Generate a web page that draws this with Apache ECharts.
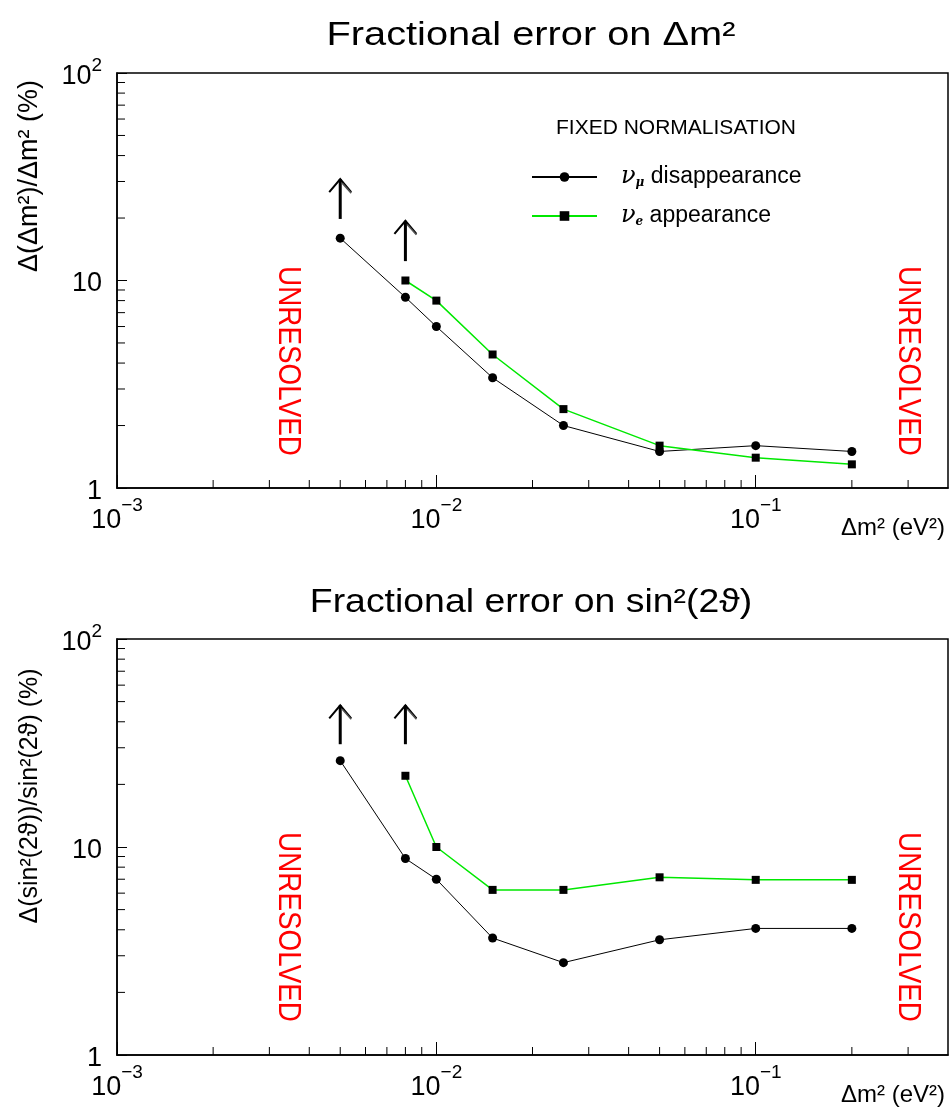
<!DOCTYPE html>
<html>
<head>
<meta charset="utf-8">
<title>Fractional errors</title>
<script src="https://cdn.jsdelivr.net/npm/echarts@6/dist/echarts.min.js"></script>
</head>
<body style="margin:0">
<div id="main" style="width:951px;height:1108px;"></div>
<script>
// x positions, delta m^2 in eV^2
var dm2Mu = [0.005, 0.008, 0.01, 0.015, 0.025, 0.05, 0.1, 0.2];
var dm2E = [0.008, 0.01, 0.015, 0.025, 0.05, 0.1, 0.2];

// top panel: fractional error on delta m^2 (%)
var dmMu = [16.0, 8.3, 6.0, 3.4, 2.0, 1.5, 1.6, 1.5];
var dmE = [10.0, 8.0, 4.4, 2.4, 1.6, 1.4, 1.3];

// bottom panel: fractional error on sin^2(2theta) (%)
var s2Mu = [26, 8.8, 7.0, 3.65, 2.78, 3.58, 4.06, 4.06];
var s2E = [22, 10, 6.22, 6.22, 7.15, 6.95, 6.95];

// upward arrows [x, from, to]
var arrowsTop = [[0.005, 19.8, 30.8], [0.008, 12.4, 19.4]];
var arrowsBot = [[0.005, 31.2, 48], [0.008, 31.2, 48]];

// minor ticks of the log axes
var xMinor = [0.002, 0.003, 0.004, 0.005, 0.006, 0.007, 0.008, 0.009,
	0.02, 0.03, 0.04, 0.05, 0.06, 0.07, 0.08, 0.09, 0.2, 0.3];
var yMinor = [2, 3, 4, 5, 6, 7, 8, 9, 20, 30, 40, 50, 60, 70, 80, 90];

var legendNames = ['mu', 'e'];
var GREEN = '#00e800';
var FONT = 'Liberation Sans';

var myChart = echarts.init(document.getElementById('main'));

function pairs(xs, ys) {
	var out = [];
	for (var i = 0; i < xs.length; i++) out.push([xs[i], ys[i]]);
	return out;
}

function xTick(params, api) {
	var p = api.coord([api.value(0), 1]);
	return { type: 'line', shape: { x1: p[0], y1: p[1], x2: p[0], y2: p[1] - 8 },
		style: { stroke: '#000', lineWidth: 1 } };
}
function yTick(params, api) {
	var p = api.coord([0.001, api.value(1)]);
	return { type: 'line', shape: { x1: p[0], y1: p[1], x2: p[0] + 8, y2: p[1] },
		style: { stroke: '#000', lineWidth: 1 } };
}
function arrow(params, api) {
	var a = api.coord([api.value(0), api.value(1)]);
	var b = api.coord([api.value(0), api.value(2)]);
	return { type: 'group', children: [
		{ type: 'line', shape: { x1: a[0], y1: a[1], x2: b[0], y2: b[1] },
			style: { stroke: '#000', lineWidth: 3 } },
		{ type: 'polyline', shape: { points: [[b[0] - 11, b[1] + 13], [b[0], b[1]], [b[0] + 11, b[1] + 13]] },
			style: { stroke: '#000', lineWidth: 2, fill: null } },
		{ type: 'line', shape: { x1: b[0] + 2, y1: b[1] + 4, x2: b[0] + 11, y2: b[1] + 14 },
			style: { stroke: '#555', lineWidth: 1.5 } }
	] };
}

function xAxisOf(idx) {
	return {
		gridIndex: idx, type: 'log', logBase: 10, min: 0.001, max: 0.4,
		axisLine: { lineStyle: { color: '#000', width: 1.5 } },
		axisTick: { inside: true, length: 13, lineStyle: { color: '#000' } },
		splitLine: { show: false },
		axisLabel: {
			margin: 8, showMaxLabel: false, color: '#000',
			formatter: function (v) {
				return '{b|10}{s|−' + Math.round(-Math.log10(v)) + '}';
			},
			rich: {
				b: { fontSize: 27, fontFamily: FONT, color: '#000', lineHeight: 38, verticalAlign: 'bottom' },
				s: { fontSize: 19, fontFamily: FONT, color: '#000', verticalAlign: 'top' }
			}
		},
		name: 'Δm² (eV²)', nameLocation: 'end', nameGap: 0,
		nameTextStyle: { fontFamily: FONT, fontSize: 24, color: '#000', align: 'right',
			verticalAlign: 'top', padding: [28, 3, 0, 0] }
	};
}

function yAxisOf(idx) {
	return {
		gridIndex: idx, type: 'log', logBase: 10, min: 1, max: 100,
		axisLine: { lineStyle: { color: '#000', width: 1.5 } },
		axisTick: { inside: true, length: 10, lineStyle: { color: '#000' } },
		splitLine: { show: false },
		axisLabel: {
			margin: 15, color: '#000',
			formatter: function (v) {
				var e = Math.round(Math.log10(v));
				if (e === 2) return '{b|10}{s|2}';
				return '{b|' + (e === 1 ? '10' : '1') + '}';
			},
			rich: {
				b: { fontSize: 27, fontFamily: FONT, color: '#000', lineHeight: 34, verticalAlign: 'bottom' },
				s: { fontSize: 19, fontFamily: FONT, color: '#000', verticalAlign: 'top' }
			}
		}
	};
}

function unresolved(x, y) {
	return { type: 'text', x: x, y: y, rotation: -Math.PI / 2, scaleX: 0.87,
		style: { text: 'UNRESOLVED', fill: '#ff0000', font: '32px ' + FONT,
			align: 'center', verticalAlign: 'middle' } };
}

function label(text, x, y, size, sx, rot) {
	return { type: 'text', x: x, y: y, scaleX: sx, rotation: rot || 0,
		style: { text: text, font: size + 'px ' + FONT, fill: '#000', align: 'center', verticalAlign: 'middle' } };
}

option = {
	backgroundColor: '#fff',
	animation: false,
	grid: [
		{ left: 117, top: 73, width: 831, height: 415, show: true, borderColor: '#000', borderWidth: 1.5 },
		{ left: 117, top: 639, width: 831, height: 416, show: true, borderColor: '#000', borderWidth: 1.5 }
	],
	xAxis: [xAxisOf(0), xAxisOf(1)],
	yAxis: [yAxisOf(0), yAxisOf(1)],
	legend: {
		data: legendNames, orient: 'vertical', left: 526, top: 160,
		itemWidth: 65, itemHeight: 12, itemGap: 15,
		formatter: function (n) {
			return n === 'mu' ? '{nu|ν}{sub|μ}{t| disappearance}' : '{nu|ν}{sub|e}{t| appearance}';
		},
		textStyle: {
			rich: {
				nu: { fontFamily: 'DejaVu Serif', fontStyle: 'italic', fontSize: 24, color: '#000', padding: [0, 0, 0, 19] },
				sub: { fontFamily: 'DejaVu Serif', fontStyle: 'italic', fontWeight: 'bold', fontSize: 12, color: '#000', verticalAlign: 'bottom' },
				t: { fontFamily: FONT, fontSize: 23, color: '#000' }
			}
		}
	},
	graphic: [
		label('Fractional error on Δm²', 531, 36, 34, 1.17),
		label('Fractional error on sin²(2ϑ)', 531, 603, 34, 1.10),
		label('FIXED NORMALISATION', 676, 128, 21, 1),
		label('Δ(Δm²)/Δm² (%)', 30, 176, 27, 1, Math.PI / 2),
		label('Δ(sin²(2ϑ))/sin²(2ϑ) (%)', 30, 796, 25, 1, Math.PI / 2),
		unresolved(288, 361), unresolved(908, 361),
		unresolved(288, 927), unresolved(908, 927)
	],
	series: [
		{ name: 'mu', type: 'line', xAxisIndex: 0, yAxisIndex: 0, data: pairs(dm2Mu, dmMu),
			symbol: 'circle', symbolSize: 9, itemStyle: { color: '#000' }, lineStyle: { color: '#000', width: 1 }, z: 5 },
		{ name: 'e', type: 'line', xAxisIndex: 0, yAxisIndex: 0, data: pairs(dm2E, dmE),
			symbol: 'rect', symbolSize: 8, itemStyle: { color: '#000' }, lineStyle: { color: GREEN, width: 1.5 }, z: 5 },
		{ name: 'mu', type: 'line', xAxisIndex: 1, yAxisIndex: 1, data: pairs(dm2Mu, s2Mu),
			symbol: 'circle', symbolSize: 9, itemStyle: { color: '#000' }, lineStyle: { color: '#000', width: 1 }, z: 5 },
		{ name: 'e', type: 'line', xAxisIndex: 1, yAxisIndex: 1, data: pairs(dm2E, s2E),
			symbol: 'rect', symbolSize: 8, itemStyle: { color: '#000' }, lineStyle: { color: GREEN, width: 1.5 }, z: 5 },
		{ type: 'custom', xAxisIndex: 0, yAxisIndex: 0, renderItem: arrow, data: arrowsTop, encode: { x: 0, y: [1, 2] }, silent: true },
		{ type: 'custom', xAxisIndex: 1, yAxisIndex: 1, renderItem: arrow, data: arrowsBot, encode: { x: 0, y: [1, 2] }, silent: true },
		{ type: 'custom', xAxisIndex: 0, yAxisIndex: 0, renderItem: xTick, data: xMinor.map(function (v) { return [v, 1]; }), clip: false, silent: true },
		{ type: 'custom', xAxisIndex: 1, yAxisIndex: 1, renderItem: xTick, data: xMinor.map(function (v) { return [v, 1]; }), clip: false, silent: true },
		{ type: 'custom', xAxisIndex: 0, yAxisIndex: 0, renderItem: yTick, data: yMinor.map(function (v) { return [0.001, v]; }), clip: false, silent: true },
		{ type: 'custom', xAxisIndex: 1, yAxisIndex: 1, renderItem: yTick, data: yMinor.map(function (v) { return [0.001, v]; }), clip: false, silent: true }
	]
};

myChart.setOption(option);
</script>
</body>
</html>
